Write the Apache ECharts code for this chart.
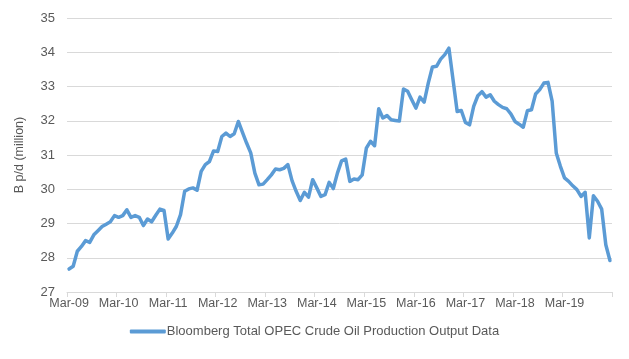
<!DOCTYPE html>
<html>
<head>
<meta charset="utf-8">
<script src="https://cdn.jsdelivr.net/npm/echarts@6/dist/echarts.min.js"></script>
<style>
html,body{margin:0;padding:0;background:#fff;}
#chart{width:629px;height:359px;}
</style>
</head>
<body>
<div id="chart"></div>
<script>
const categories = [
"Mar-09","Apr-09","May-09","Jun-09","Jul-09","Aug-09","Sep-09","Oct-09","Nov-09","Dec-09","Jan-10","Feb-10",
"Mar-10","Apr-10","May-10","Jun-10","Jul-10","Aug-10","Sep-10","Oct-10","Nov-10","Dec-10","Jan-11","Feb-11",
"Mar-11","Apr-11","May-11","Jun-11","Jul-11","Aug-11","Sep-11","Oct-11","Nov-11","Dec-11","Jan-12","Feb-12",
"Mar-12","Apr-12","May-12","Jun-12","Jul-12","Aug-12","Sep-12","Oct-12","Nov-12","Dec-12","Jan-13","Feb-13",
"Mar-13","Apr-13","May-13","Jun-13","Jul-13","Aug-13","Sep-13","Oct-13","Nov-13","Dec-13","Jan-14","Feb-14",
"Mar-14","Apr-14","May-14","Jun-14","Jul-14","Aug-14","Sep-14","Oct-14","Nov-14","Dec-14","Jan-15","Feb-15",
"Mar-15","Apr-15","May-15","Jun-15","Jul-15","Aug-15","Sep-15","Oct-15","Nov-15","Dec-15","Jan-16","Feb-16",
"Mar-16","Apr-16","May-16","Jun-16","Jul-16","Aug-16","Sep-16","Oct-16","Nov-16","Dec-16","Jan-17","Feb-17",
"Mar-17","Apr-17","May-17","Jun-17","Jul-17","Aug-17","Sep-17","Oct-17","Nov-17","Dec-17","Jan-18","Feb-18",
"Mar-18","Apr-18","May-18","Jun-18","Jul-18","Aug-18","Sep-18","Oct-18","Nov-18","Dec-18","Jan-19","Feb-19",
"Mar-19","Apr-19","May-19","Jun-19","Jul-19","Aug-19","Sep-19","Oct-19","Nov-19","Dec-19","Jan-20","Feb-20"
];

const seriesName = "Bloomberg Total OPEC Crude Oil Production Output Data";

const opecOutput = [
27.67,27.75,28.19,28.33,28.50,28.45,28.67,28.79,28.91,28.98,29.05,29.23,
29.18,29.23,29.40,29.18,29.23,29.18,28.94,29.13,29.05,29.24,29.42,29.38,
28.55,28.72,28.92,29.26,29.94,30.01,30.04,29.97,30.52,30.72,30.81,31.12,
31.10,31.54,31.64,31.54,31.62,31.98,31.66,31.35,31.06,30.47,30.13,30.15,
30.28,30.42,30.59,30.57,30.61,30.72,30.25,29.94,29.67,29.91,29.77,30.28,
30.04,29.79,29.84,30.20,30.02,30.47,30.83,30.88,30.23,30.30,30.28,30.42,
31.20,31.40,31.27,32.35,32.08,32.15,32.03,32.01,31.99,32.93,32.86,32.61,
32.37,32.69,32.54,33.10,33.57,33.59,33.80,33.93,34.12,33.20,32.27,32.30,
31.95,31.88,32.42,32.73,32.85,32.69,32.76,32.57,32.47,32.39,32.35,32.20,
31.98,31.90,31.81,32.29,32.32,32.78,32.91,33.10,33.12,32.57,31.06,30.67,
30.33,30.23,30.10,29.99,29.79,29.91,28.58,29.81,29.65,29.42,28.38,27.92
];

const yMin = 27, yMax = 35, yStep = 1;
const yAxisTitle = "B p/d (million)";

const chart = echarts.init(document.getElementById('chart'), null, {renderer:'canvas'});
const textColor = '#595959';
const font = '"Liberation Sans", Arial, sans-serif';
chart.setOption({
  animation:false,
  backgroundColor:'#ffffff',
  grid:{left:67, right:17, top:18, bottom:67, containLabel:false},
  legend:{
    data:[{name:seriesName, icon:'roundRect'}],
    left:'center', top:320,
    itemWidth:36, itemHeight:4, itemGap:10,
    textStyle:{color:textColor, fontSize:13, fontFamily:font, padding:[0,0,0,-4]}
  },
  xAxis:{
    type:'category',
    data:categories,
    boundaryGap:true,
    axisLine:{lineStyle:{color:'#d9d9d9', width:1}},
    axisTick:{show:true, interval:11, length:5, lineStyle:{color:'#d9d9d9'}},
    axisLabel:{interval:11, color:textColor, fontSize:12.5, fontFamily:font, margin:5},
    splitLine:{show:false}
  },
  yAxis:{
    type:'value',
    min:yMin, max:yMax, interval:yStep,
    name:yAxisTitle, nameLocation:'middle', nameRotate:90, nameGap:41,
    nameTextStyle:{color:textColor, fontSize:12.5, fontFamily:font},
    axisLine:{show:false}, axisTick:{show:false},
    axisLabel:{color:textColor, fontSize:13, fontFamily:font, margin:12},
    splitLine:{lineStyle:{color:'#d9d9d9', width:1}}
  },
  series:[{
    name:seriesName,
    type:'line',
    data:opecOutput,
    symbol:'none',
    smooth:false,
    lineStyle:{color:'#5b9bd5', width:3.5, join:'round', cap:'round'},
    itemStyle:{color:'#5b9bd5'}
  }]
});
</script>
</body>
</html>
